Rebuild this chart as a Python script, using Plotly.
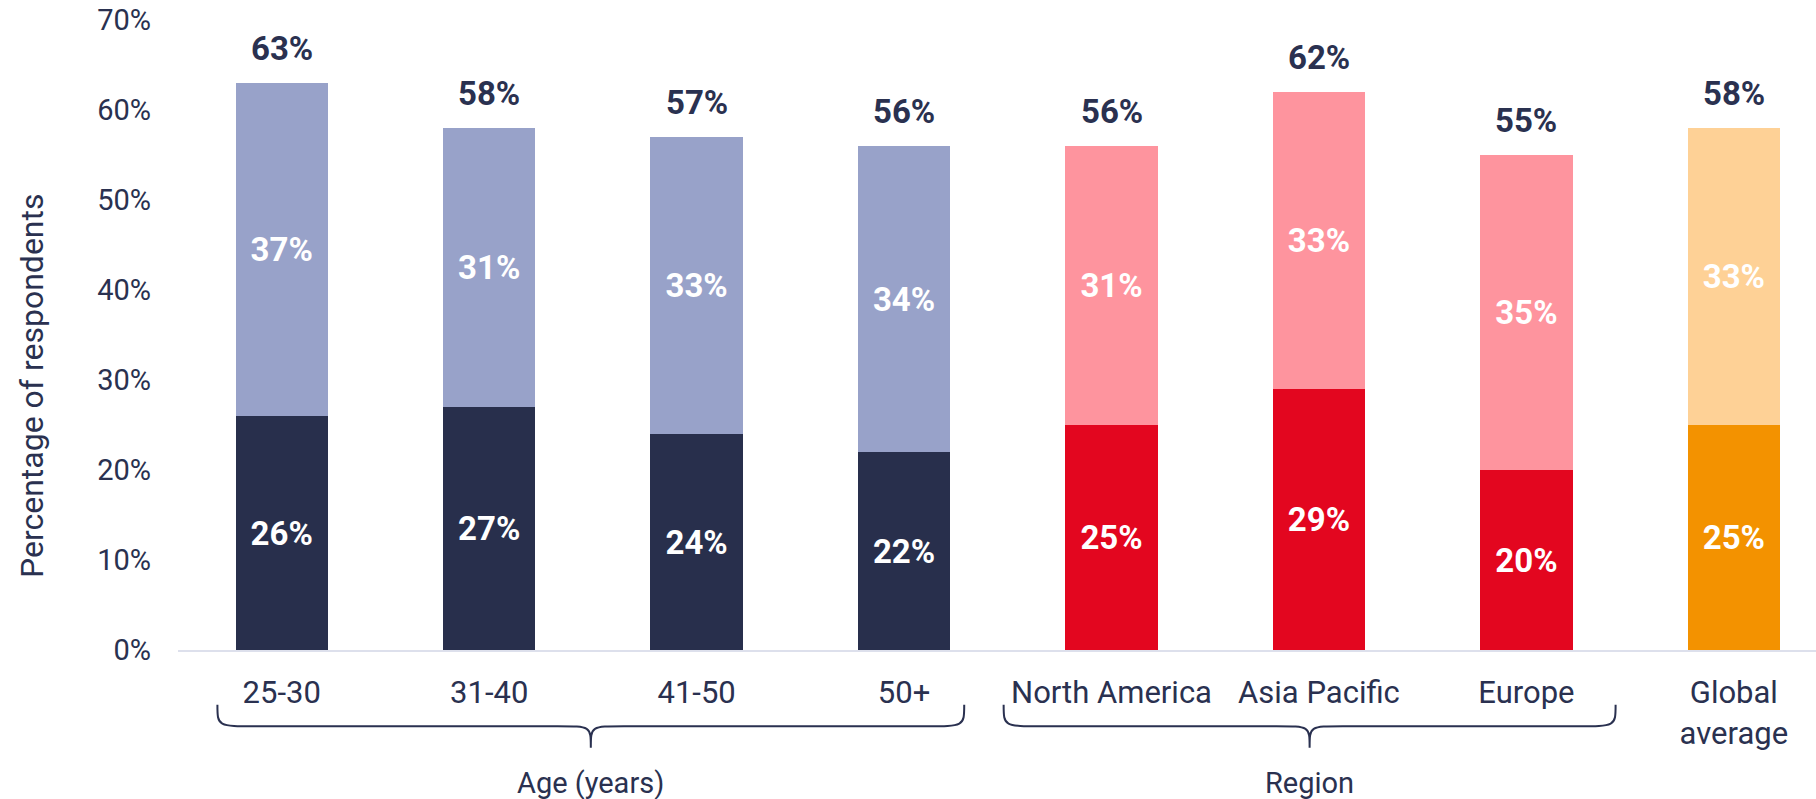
import plotly.graph_objects as go

categories = ["25-30", "31-40", "41-50", "50+", "North America", "Asia Pacific", "Europe", "Global<br>average"]
lower = [26, 27, 24, 22, 25, 29, 20, 25]
upper = [37, 31, 33, 34, 31, 33, 35, 33]
totals = [63, 58, 57, 56, 56, 62, 55, 58]
y_ticks = [0, 10, 20, 30, 40, 50, 60, 70]

groups = ["Age (years)", "Region"]
group_span = [(0, 3), (4, 6)]

lower_colors = ["#282f4c"] * 4 + ["#e3061f"] * 3 + ["#f39200"]
upper_colors = ["#98a2c9"] * 4 + ["#fe949e"] * 3 + ["#fed196"]

NAVY = "#2a3150"
FONT = "Roboto"

x = list(range(len(categories)))

fig = go.Figure()
fig.add_trace(go.Bar(
    x=x, y=lower, width=0.445, marker=dict(color=lower_colors, line_width=0),
    text=[f"{v}%" for v in lower], textposition="inside", insidetextanchor="middle",
    textangle=0, constraintext="none",
    textfont=dict(family=FONT, size=33, color="white", weight="bold"),
))
fig.add_trace(go.Bar(
    x=x, y=upper, width=0.445, marker=dict(color=upper_colors, line_width=0),
    text=[f"{v}%" for v in upper], textposition="inside", insidetextanchor="middle",
    textangle=0, constraintext="none",
    textfont=dict(family=FONT, size=33, color="white", weight="bold"),
))

# total labels above each stack
for xi, t in zip(x, totals):
    fig.add_annotation(x=xi, y=t, text=f"{t}%", showarrow=False, yanchor="bottom", yshift=13,
                       font=dict(family=FONT, size=33, color=NAVY, weight="bold"))

# group braces and labels
def brace(x0, x1, y_top, y_mid, y_tip, ex, tx):
    xm = (x0 + x1) / 2
    return (f"M {x0},{y_top} C {x0},{y_mid} {x0},{y_mid} {x0 + ex},{y_mid} "
            f"L {xm - tx},{y_mid} C {xm},{y_mid} {xm},{y_mid} {xm},{y_tip} "
            f"C {xm},{y_mid} {xm},{y_mid} {xm + tx},{y_mid} "
            f"L {x1 - ex},{y_mid} C {x1},{y_mid} {x1},{y_mid} {x1},{y_top}")

brace_pad = [(0.31, 0.29), (0.52, 0.43)]
for name, (a, b), (pl, pr) in zip(groups, group_span, brace_pad):
    x0, x1 = a - pl, b + pr
    fig.add_shape(type="path", xref="x", yref="paper",
                  path=brace(x0, x1, -0.087, -0.121, -0.155, 0.19, 0.16),
                  line=dict(color=NAVY, width=2))
    fig.add_annotation(x=(x0 + x1) / 2, y=-0.211, xref="x", yref="paper", text=name, showarrow=False,
                       yanchor="middle", font=dict(family=FONT, size=29, color=NAVY))

# y axis title (sits a bit below the plot's middle in the original)
fig.add_annotation(x=0, y=0.419, xref="paper", yref="paper", xshift=-146, textangle=-90,
                   text="Percentage of respondents", showarrow=False,
                   xanchor="center", yanchor="middle",
                   font=dict(family=FONT, size=32, color=NAVY))

fig.update_layout(
    barmode="stack",
    width=1816, height=799,
    margin=dict(l=178, r=0, t=20, b=149),
    plot_bgcolor="white", paper_bgcolor="white",
    showlegend=False,
    font=dict(family=FONT, color=NAVY),
    xaxis=dict(
        tickmode="array", tickvals=x, ticktext=categories,
        range=[-0.5, 7.396], showgrid=False, zeroline=False,
        showline=True, linecolor="#dde0ec", linewidth=2,
        ticks="", ticklabelstandoff=14, automargin=False,
        tickfont=dict(family=FONT, size=31, color=NAVY),
    ),
    yaxis=dict(
        range=[0, 70], tickmode="array", tickvals=y_ticks,
        ticktext=[f"{v}%" for v in y_ticks],
        showgrid=False, zeroline=False, showline=False, ticks="",
        ticklabelstandoff=26, ticklabeloverflow="allow", automargin=False,
        tickfont=dict(family=FONT, size=29, color=NAVY),
    ),
)

# drop the page's default body margin so the figure sits at the window's corner
fig.write_html("out.html", config={"displayModeBar": False},
               post_script="document.body.style.margin='0';")
